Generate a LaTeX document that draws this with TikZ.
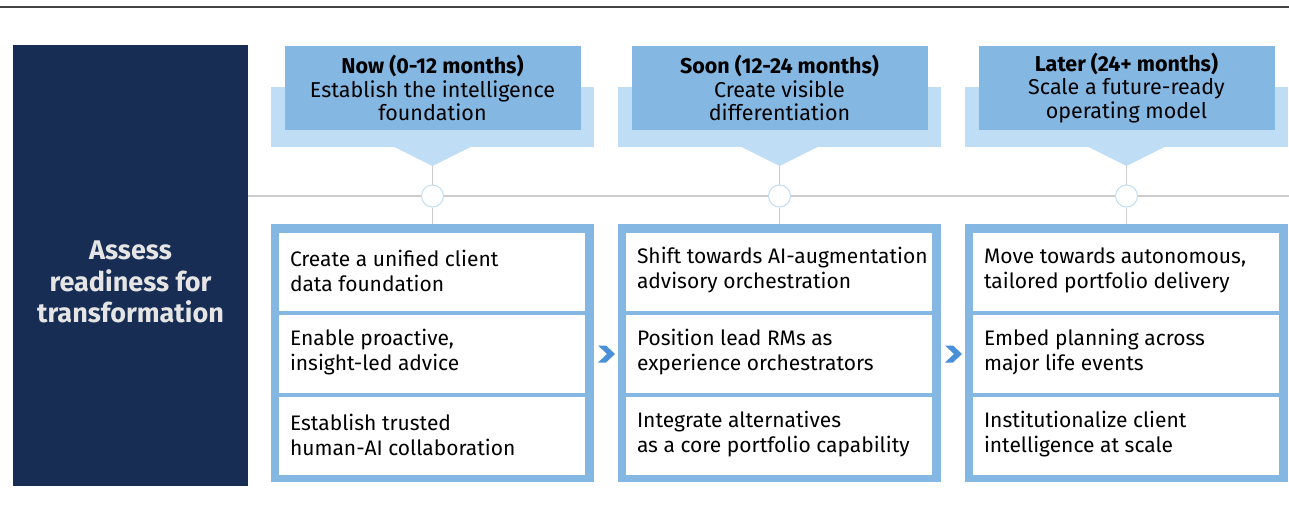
\documentclass[tikz,border=0pt]{standalone}
\usepackage{fontspec}
\setmainfont{Fira Sans}
\definecolor{navy}{RGB}{23,45,84}
\definecolor{hdrdark}{RGB}{133,183,227}
\definecolor{hdrlight}{RGB}{191,221,244}
\definecolor{frameblue}{RGB}{133,183,227}
\definecolor{tgray}{RGB}{204,204,204}
\definecolor{chev}{RGB}{74,144,217}
\definecolor{topline}{RGB}{68,68,68}
\begin{document}
\begin{tikzpicture}[x=1pt,y=-1pt,
  hdrtext/.style={align=center,inner sep=0pt,font=\fontsize{21.5}{23.5}\selectfont},
  cellbox/.style={fill=white,minimum width=306pt,minimum height=78pt,inner sep=0pt},
  celltext/.style={anchor=west,align=left,inner sep=0pt,font=\fontsize{21}{25}\selectfont},
  framebox/.style={fill=frameblue,minimum width=323pt,minimum height=258pt,inner sep=0pt},
  dot/.style={circle,draw=hdrlight,line width=1pt,fill=white,minimum size=22pt,inner sep=0pt},
  tline/.style={draw=tgray,line width=1.2pt},
  chevron/.style={fill=chev}
]
\useasboundingbox (0,0) rectangle (1289,504);
\draw[topline,line width=1.5pt] (0,7) -- (1289,7);
% left block
\fill[navy] (13,45) rectangle (248,486);
\node[align=center,text=white!90!black,font=\bfseries\fontsize{27}{31.5}\selectfont,inner sep=0pt] (lt) at (130.5,282) {Assess\\readiness for\\transformation};
% timeline
\coordinate (tl0) at (248,196);
\coordinate (tl1) at (1289,196);
\draw[tline] (tl0) -- (tl1);
% columns
\foreach \cx/\n in {432.5/1,779.5/2,1126.5/3}{
  \fill[hdrlight] (\cx-161.5,87) rectangle (\cx+161.5,147);
  \fill[hdrlight] (\cx-39,146.5) -- (\cx+39,146.5) -- (\cx,166) -- cycle;
  \fill[hdrdark] (\cx-148,46) rectangle (\cx+148,130);
  \coordinate (tip\n) at (\cx,166);
  \node[framebox] (b\n) at (\cx,353) {};
  \node[dot] (c\n) at (\cx,196) {};
  \draw[tline] (tip\n) -- (c\n.north);
  \draw[tline] (c\n.south) -- (b\n.north);
  \node[cellbox] (r\n1) at (\cx-0.5,272) {};
  \node[cellbox] (r\n2) at (\cx-0.5,354) {};
  \node[cellbox] (r\n3) at (\cx-0.5,436) {};
}
% header texts
\node[hdrtext] (h1) at (432.5,88) {\textbf{Now (0-12 months)}\\Establish the intelligence\\foundation};
\node[hdrtext] (h2) at (779.5,88) {\textbf{Soon (12-24 months)}\\Create visible\\differentiation};
\node[hdrtext] (h3) at (1126.5,88) {\textbf{Later (24+ months)}\\Scale a future-ready\\operating model};
% cell texts
\node[celltext] (a11) at ([xshift=11pt,yshift=1.5pt]r11.west) {Create a unified client\\data foundation};
\node[celltext] (a12) at ([xshift=11pt,yshift=1.5pt]r12.west) {Enable proactive,\\insight-led advice};
\node[celltext] (a13) at ([xshift=11pt,yshift=1.5pt]r13.west) {Establish trusted\\human-AI collaboration};
\node[celltext] (a21) at ([xshift=11pt,yshift=1.5pt]r21.west) {Shift towards AI-augmentation\\advisory orchestration};
\node[celltext] (a22) at ([xshift=11pt,yshift=1.5pt]r22.west) {Position lead RMs as\\experience orchestrators};
\node[celltext] (a23) at ([xshift=11pt,yshift=1.5pt]r23.west) {Integrate alternatives\\as a core portfolio capability};
\node[celltext] (a31) at ([xshift=11pt,yshift=1.5pt]r31.west) {Move towards autonomous,\\tailored portfolio delivery};
\node[celltext] (a32) at ([xshift=11pt,yshift=1.5pt]r32.west) {Embed planning across\\major life events};
\node[celltext] (a33) at ([xshift=11pt,yshift=1.5pt]r33.west) {Institutionalize client\\intelligence at scale};
% chevrons
\foreach \x in {606.5,953.5}{
  \fill[chevron] (\x-8.5,345.5) -- (\x-0.5,345.5) -- (\x+8.5,354) -- (\x-0.5,362.5) -- (\x-8.5,362.5) -- (\x+0.5,354) -- cycle;
}
\end{tikzpicture}
\end{document}
